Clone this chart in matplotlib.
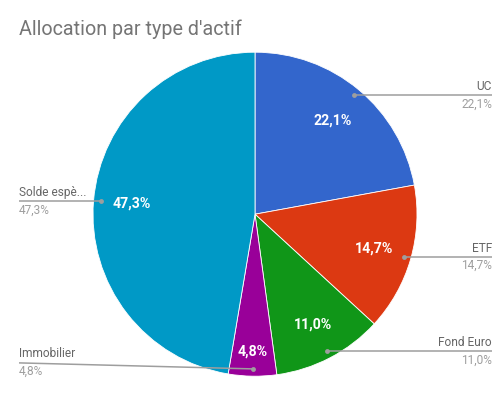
import numpy as np
import matplotlib
matplotlib.use("Agg")
import matplotlib.pyplot as plt

# ---- data ----
categories = ["UC", "ETF", "Fond Euro", "Immobilier", "Solde espèces"]
short_names = ["UC", "ETF", "Fond Euro", "Immobilier", "Solde espè..."]
values = [22.1, 14.7, 11.0, 4.8, 47.3]
colors = ["#3366cc", "#dc3912", "#109618", "#990099", "#0099c6"]
title = "Allocation par type d'actif"

# ---- layout (pixels) ----
W, H = 504, 397
cx, cy_px, R = 255.0, 214.2, 162.0
cy = H - cy_px
inner_label_frac = [0.75, 0.765, 0.77, 0.845, 0.765]
label_y_shift = [0, 0, 0, 6, 0]   # px, upward shift of leader label line
dot_frac = 0.955
right_x, left_x = 492, 19

plt.rcParams['font.family'] = ['Roboto', 'DejaVu Sans']
fig = plt.figure(figsize=(W / 100, H / 100), dpi=100)
ax = fig.add_axes([0, 0, 1, 1])
ax.set_xlim(0, W)
ax.set_ylim(0, H)
ax.set_aspect('equal')
ax.axis('off')

wedges, _ = ax.pie(values, colors=colors, startangle=90, counterclock=False,
                   center=(cx, cy), radius=R, normalize=True,
                   wedgeprops=dict(edgecolor='white', linewidth=0.6))
ax.set_xlim(0, W)
ax.set_ylim(0, H)

def fmt(v):
    return f"{v:.1f}".replace('.', ',') + "%"

for i, w in enumerate(wedges):
    mid = np.deg2rad((w.theta1 + w.theta2) / 2)
    # inside label
    r_in = inner_label_frac[i] * R
    ax.text(cx + r_in * np.cos(mid), cy + r_in * np.sin(mid), fmt(values[i]),
            color='white', fontsize=10.2, fontweight='bold', ha='center', va='center')
    # leader
    dx = cx + dot_frac * R * np.cos(mid)
    dy = cy + dot_frac * R * np.sin(mid)
    ly = dy + label_y_shift[i]
    if np.cos(mid) >= 0:
        ex = right_x
        ha = 'right'
    else:
        ex = left_x
        ha = 'left'
    ax.plot([dx, ex], [dy, ly], color='#9e9e9e', lw=1.1, solid_capstyle='butt')
    ax.plot([dx], [dy], 'o', color='#9e9e9e', ms=3.5, mec='none')
    ax.text(ex, ly + 2.5, short_names[i], color='#666666', fontsize=8.6,
            ha=ha, va='bottom')
    ax.text(ex, ly - 2.0, fmt(values[i]), color='#9e9e9e', fontsize=8.6,
            ha=ha, va='top')

ax.text(19, H - 35, title, color='#757575', fontsize=14.2, ha='left', va='baseline')

fig.savefig("out.png", dpi=100)
